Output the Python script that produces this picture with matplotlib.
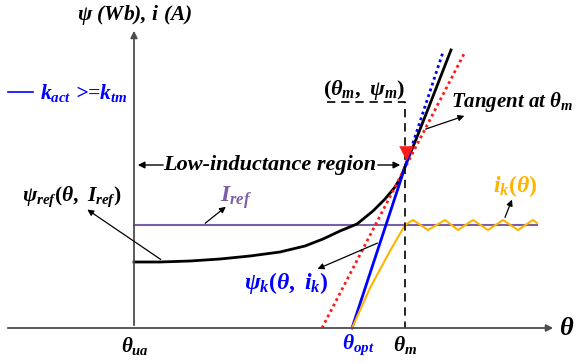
import numpy as np
import matplotlib
matplotlib.use('Agg')
import matplotlib.pyplot as plt

plt.rcParams['mathtext.fontset'] = 'custom'
plt.rcParams['mathtext.it'] = 'Liberation Serif:italic:bold'
plt.rcParams['mathtext.rm'] = 'Liberation Serif:bold'
plt.rcParams['mathtext.bf'] = 'Liberation Serif:italic:bold'

# data (theta axis, flux / current axis)
theta_ua = 134
theta_opt = 352
theta_m = 405
psi_m = 164
i_ref = 103

# psi_ref(theta, I_ref) curve
ref_theta = [134, 160, 190, 220, 250, 280, 305, 323, 340, 357, 373, 385, 395, 401, 406, 417, 430, 451]
ref_psi = [66, 66, 67, 69, 72, 76, 82, 89, 97, 104, 117, 129, 141, 151, 164, 191, 224, 278]

# psi_k(theta, i_k) straight line, solid then dotted
psik_theta = [352, 409]
psik_psi = [0, 173]
psik_dot_theta = [409, 443]
psik_dot_psi = [173, 276]

# tangent at theta_m
tan_theta = [322, 465]
tan_psi = [0, 276]

# i_k(theta) current
ik_theta = [352, 370, 390, 405, 413, 428, 445, 458, 473, 488, 503, 518, 533, 537]
ik_val = [0, 40, 77, 103, 108, 98, 108, 98, 108, 98, 108, 98, 108, 105]

iref_theta = [134, 537]

gray = '#4d4d4d'
blue = '#0000ff'
red = '#ff1a1a'
orange = '#ffb400'
purple = '#7a5ea6'

fig = plt.figure(figsize=(5.79, 3.63), dpi=100)
ax = fig.add_axes([0, 0, 1, 1])
ax.set_xlim(0, 579)
ax.set_ylim(-35, 328)
ax.axis('off')

# axes with arrows
ax.annotate('', xy=(theta_ua, 300), xytext=(theta_ua, 0),
            arrowprops=dict(arrowstyle='-|>', color=gray, lw=1.3, mutation_scale=10))
ax.annotate('', xy=(556, 0), xytext=(5, 0),
            arrowprops=dict(arrowstyle='-|>', color=gray, lw=1.3, mutation_scale=10))

# I_ref line
ax.plot(iref_theta, [i_ref, i_ref], color=purple, lw=1.5)
# curves
ax.plot(ref_theta, ref_psi, color='black', lw=2)
ax.plot(tan_theta, tan_psi, color=red, lw=2, ls=(0, (1, 1.2)))
ax.plot(psik_theta, psik_psi, color=blue, lw=2)
ax.plot(psik_dot_theta, psik_dot_psi, color=blue, lw=2, ls=(0, (1, 1.2)))
ax.plot(ik_theta, ik_val, color=orange, lw=1.5)

# dashed guide to (theta_m, psi_m)
ax.plot([327, theta_m, theta_m], [226, 226, 0], color='black', lw=1.2, ls=(0, (5, 3.5)))
ax.scatter([theta_m + 1], [psi_m + 11], marker='v', s=110, color=red, zorder=5, linewidths=0)

fs = 16
tkw = dict(fontweight='bold', fontstyle='italic', family='Liberation Serif')

ax.text(theta_ua + 1, 313, r'$\psi$ (Wb), $i$ (A)', ha='center', va='center', fontsize=15.5, **tkw)
ax.plot([8, 33], [236, 236], color=blue, lw=1.2)
ax.text(40, 235, r'$k_{act}$ >=$k_{tm}$', ha='left', va='center', color=blue, fontsize=15.5, **tkw)

ax.text(567, 0, r'$\theta$', ha='center', va='center', fontsize=19)
ax.text(theta_ua + 1, -18, r'$\theta_{ua}$', ha='center', va='center', fontsize=15)
ax.text(theta_opt + 6, -17, r'$\theta_{opt}$', ha='center', va='center', fontsize=15.5, color=blue)
ax.text(theta_m, -17, r'$\theta_m$', ha='center', va='center', fontsize=15.5)

ax.text(364, 238, r'$(\theta_m,\ \psi_m)$', ha='center', va='center', fontsize=fs)

ax.text(451, 226, r'Tangent at $\theta_m$', ha='left', va='center', fontsize=15, **tkw)
ax.annotate('', xy=(467, 213), xytext=(423, 198),
            arrowprops=dict(arrowstyle='-|>', color='black', lw=0.9, mutation_scale=9))

ax.text(270, 163, 'Low-inductance region', ha='center', va='center', fontsize=fs, **tkw)
ax.annotate('', xy=(theta_ua + 1, 163), xytext=(166, 163),
            arrowprops=dict(arrowstyle='-|>', color='black', lw=1.0, mutation_scale=10))
ax.annotate('', xy=(403, 163), xytext=(375, 163),
            arrowprops=dict(arrowstyle='-|>', color='black', lw=1.0, mutation_scale=10))

ax.text(72, 131, r'$\psi_{ref}(\theta,\ I_{ref})$', ha='center', va='center', fontsize=15.5)
ax.annotate('', xy=(85, 120), xytext=(163, 67),
            arrowprops=dict(arrowstyle='-|>', color='black', lw=0.9, mutation_scale=9))

ax.text(236, 130, r'$I_{ref}$', ha='center', va='center', fontsize=17, color=purple)
ax.annotate('', xy=(228, 123), xytext=(203, i_ref),
            arrowprops=dict(arrowstyle='-|>', color='black', lw=0.9, mutation_scale=9))

ax.text(286, 45, r'$\psi_k(\theta,\ i_k)$', ha='center', va='center', fontsize=17, color=blue)
ax.annotate('', xy=(315, 58), xytext=(380, 86),
            arrowprops=dict(arrowstyle='-|>', color='black', lw=0.9, mutation_scale=9))

ax.text(515, 142, r'$i_k(\theta)$', ha='center', va='center', fontsize=17, color=orange)
ax.annotate('', xy=(513, 131), xytext=(504, 108),
            arrowprops=dict(arrowstyle='-|>', color='black', lw=0.9, mutation_scale=9))

fig.savefig('out.png', dpi=100)
